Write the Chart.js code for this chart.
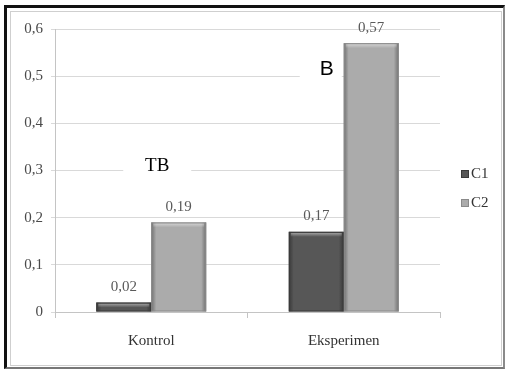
<!DOCTYPE html>
<html>
<head>
<meta charset="utf-8">
<script src="https://cdn.jsdelivr.net/npm/chart.js@4/dist/chart.umd.min.js"></script>
<style>
  html, body { margin: 0; padding: 0; background: #fff; }
  #wrap { position: relative; width: 505px; height: 369px; overflow: hidden; }
  #chart { position: absolute; left: 0; top: 0; }
  .frame-outer {
    position: absolute; left: 4px; top: 5px; width: 496px; height: 359px;
    border-left: 3px solid #111; border-top: 3px solid #111;
    border-right: 2px solid #8a8a8a; border-bottom: 2px solid #777;
    pointer-events: none;
  }
  .frame-inner {
    position: absolute; left: 10px; top: 11px; width: 490px; height: 353px;
    border: 1px solid #cfcfcf; pointer-events: none;
  }
</style>
</head>
<body>
<div id="wrap">
  <canvas id="chart" width="505" height="369"></canvas>
  <div class="frame-outer"></div>
  <div class="frame-inner"></div>
</div>
<script>
// Categories, series and axis ticks
const categories = ['Kontrol', 'Eksperimen'];
const seriesNames = ['C1', 'C2'];
const c1Values = [0.02, 0.17];
const c2Values = [0.19, 0.57];
const yTicks = [0, 0.1, 0.2, 0.3, 0.4, 0.5, 0.6];

const SERIF = "'Liberation Serif', 'Times New Roman', serif";
const fillColors = ['#575757', '#ababab'];
const edgeColors = ['#3a3a3a', '#8a8a8a'];

function fmt(v) {
  if (v === 0) return '0';
  return String(Math.round(v * 100) / 100).replace('.', ',');
}

// Bevelled look for the bars: darker sides, lighter top edge
const bevelPlugin = {
  id: 'bevel',
  afterDatasetsDraw(chart) {
    const ctx = chart.ctx;
    chart.data.datasets.forEach((ds, di) => {
      chart.getDatasetMeta(di).data.forEach(bar => {
        const w = bar.width, left = bar.x - w / 2, top = bar.y, h = bar.base - bar.y;
        ctx.save();
        let g = ctx.createLinearGradient(left, 0, left + 5, 0);
        g.addColorStop(0, 'rgba(0,0,0,0.35)');
        g.addColorStop(1, 'rgba(0,0,0,0)');
        ctx.fillStyle = g;
        ctx.fillRect(left, top, 5, h);
        g = ctx.createLinearGradient(left + w, 0, left + w - 5, 0);
        g.addColorStop(0, 'rgba(0,0,0,0.35)');
        g.addColorStop(1, 'rgba(0,0,0,0)');
        ctx.fillStyle = g;
        ctx.fillRect(left + w - 5, top, 5, h);
        const th = Math.min(5, h);
        g = ctx.createLinearGradient(0, top, 0, top + th);
        g.addColorStop(0, 'rgba(255,255,255,0.55)');
        g.addColorStop(1, 'rgba(255,255,255,0)');
        ctx.fillStyle = g;
        ctx.fillRect(left + 2, top + 1, w - 4, th);
        ctx.strokeStyle = edgeColors[di];
        ctx.lineWidth = 1;
        ctx.strokeRect(left + 0.5, top + 0.5, w - 1, h - 1);
        ctx.restore();
      });
    });
  }
};

// Value labels above each bar
const valueLabels = {
  id: 'valueLabels',
  afterDatasetsDraw(chart) {
    const ctx = chart.ctx;
    ctx.save();
    ctx.font = '15px ' + SERIF;
    ctx.fillStyle = '#5a5a5a';
    ctx.textAlign = 'center';
    ctx.textBaseline = 'bottom';
    chart.data.datasets.forEach((ds, di) => {
      chart.getDatasetMeta(di).data.forEach((bar, i) => {
        ctx.fillText(fmt(ds.data[i]), bar.x, bar.y - 8);
      });
    });
    ctx.restore();
  }
};

// Significance notes on the plot
const notes = {
  id: 'notes',
  afterDraw(chart) {
    const ctx = chart.ctx;
    const xs = chart.scales.x, ys = chart.scales.y;
    ctx.save();
    // "TB" over the control group
    let cx = xs.getPixelForValue(0) + 6, cy = ys.getPixelForValue(0.31);
    ctx.fillStyle = '#fff';
    ctx.fillRect(cx - 34, cy - 12, 68, 20);
    ctx.fillStyle = '#000';
    ctx.font = '19px ' + SERIF;
    ctx.textAlign = 'center';
    ctx.textBaseline = 'middle';
    ctx.fillText('TB', cx, cy);
    // "B" over the experiment group
    cx = xs.getPixelForValue(1) - 17; cy = ys.getPixelForValue(0.515);
    ctx.fillStyle = '#fff';
    ctx.fillRect(cx - 27, cy - 12, 42, 26);
    ctx.fillStyle = '#000';
    ctx.font = "21px 'Liberation Sans', Arial, sans-serif";
    ctx.fillText('B', cx, cy);
    ctx.restore();
  }
};

// Legend at the right
const sideLegend = {
  id: 'sideLegend',
  afterDraw(chart) {
    const ctx = chart.ctx;
    ctx.save();
    ctx.font = '15px ' + SERIF;
    ctx.textBaseline = 'middle';
    ctx.textAlign = 'left';
    seriesNames.forEach((name, i) => {
      const y = 174 + i * 29;
      ctx.fillStyle = fillColors[i];
      ctx.fillRect(461, y - 4, 8, 8);
      ctx.strokeStyle = edgeColors[i];
      ctx.strokeRect(461.5, y - 3.5, 7, 7);
      ctx.fillStyle = '#333';
      ctx.fillText(name, 471, y);
    });
    ctx.restore();
  }
};

new Chart(document.getElementById('chart'), {
  type: 'bar',
  data: {
    labels: categories,
    datasets: [
      { label: seriesNames[0], data: c1Values, backgroundColor: fillColors[0] },
      { label: seriesNames[1], data: c2Values, backgroundColor: fillColors[1] }
    ]
  },
  options: {
    responsive: false,
    animation: false,
    devicePixelRatio: 1,
    categoryPercentage: 0.571,
    barPercentage: 1,
    layout: { padding: { left: 0, right: 65, top: 29, bottom: 0 } },
    plugins: { legend: { display: false }, tooltip: { enabled: false } },
    scales: {
      x: {
        offset: true,
        grid: { display: true, drawOnChartArea: false, drawTicks: true, tickLength: 6, color: '#c4c4c4', offset: true },
        border: { display: true, color: '#c4c4c4' },
        ticks: { font: { family: SERIF, size: 15 }, color: '#333', padding: 14 },
        afterFit(s) { s.height = 57; }
      },
      y: {
        min: 0, max: 0.6,
        afterBuildTicks(s) { s.ticks = yTicks.map(v => ({ value: v })); },
        grid: { color: '#d9d9d9', tickLength: 4 },
        border: { display: true, color: '#c4c4c4' },
        ticks: { font: { family: SERIF, size: 15 }, color: '#4a4a4a', padding: 8, callback: v => fmt(v) },
        afterFit(s) { s.width = 55; }
      }
    }
  },
  plugins: [bevelPlugin, valueLabels, notes, sideLegend]
});
</script>
</body>
</html>
